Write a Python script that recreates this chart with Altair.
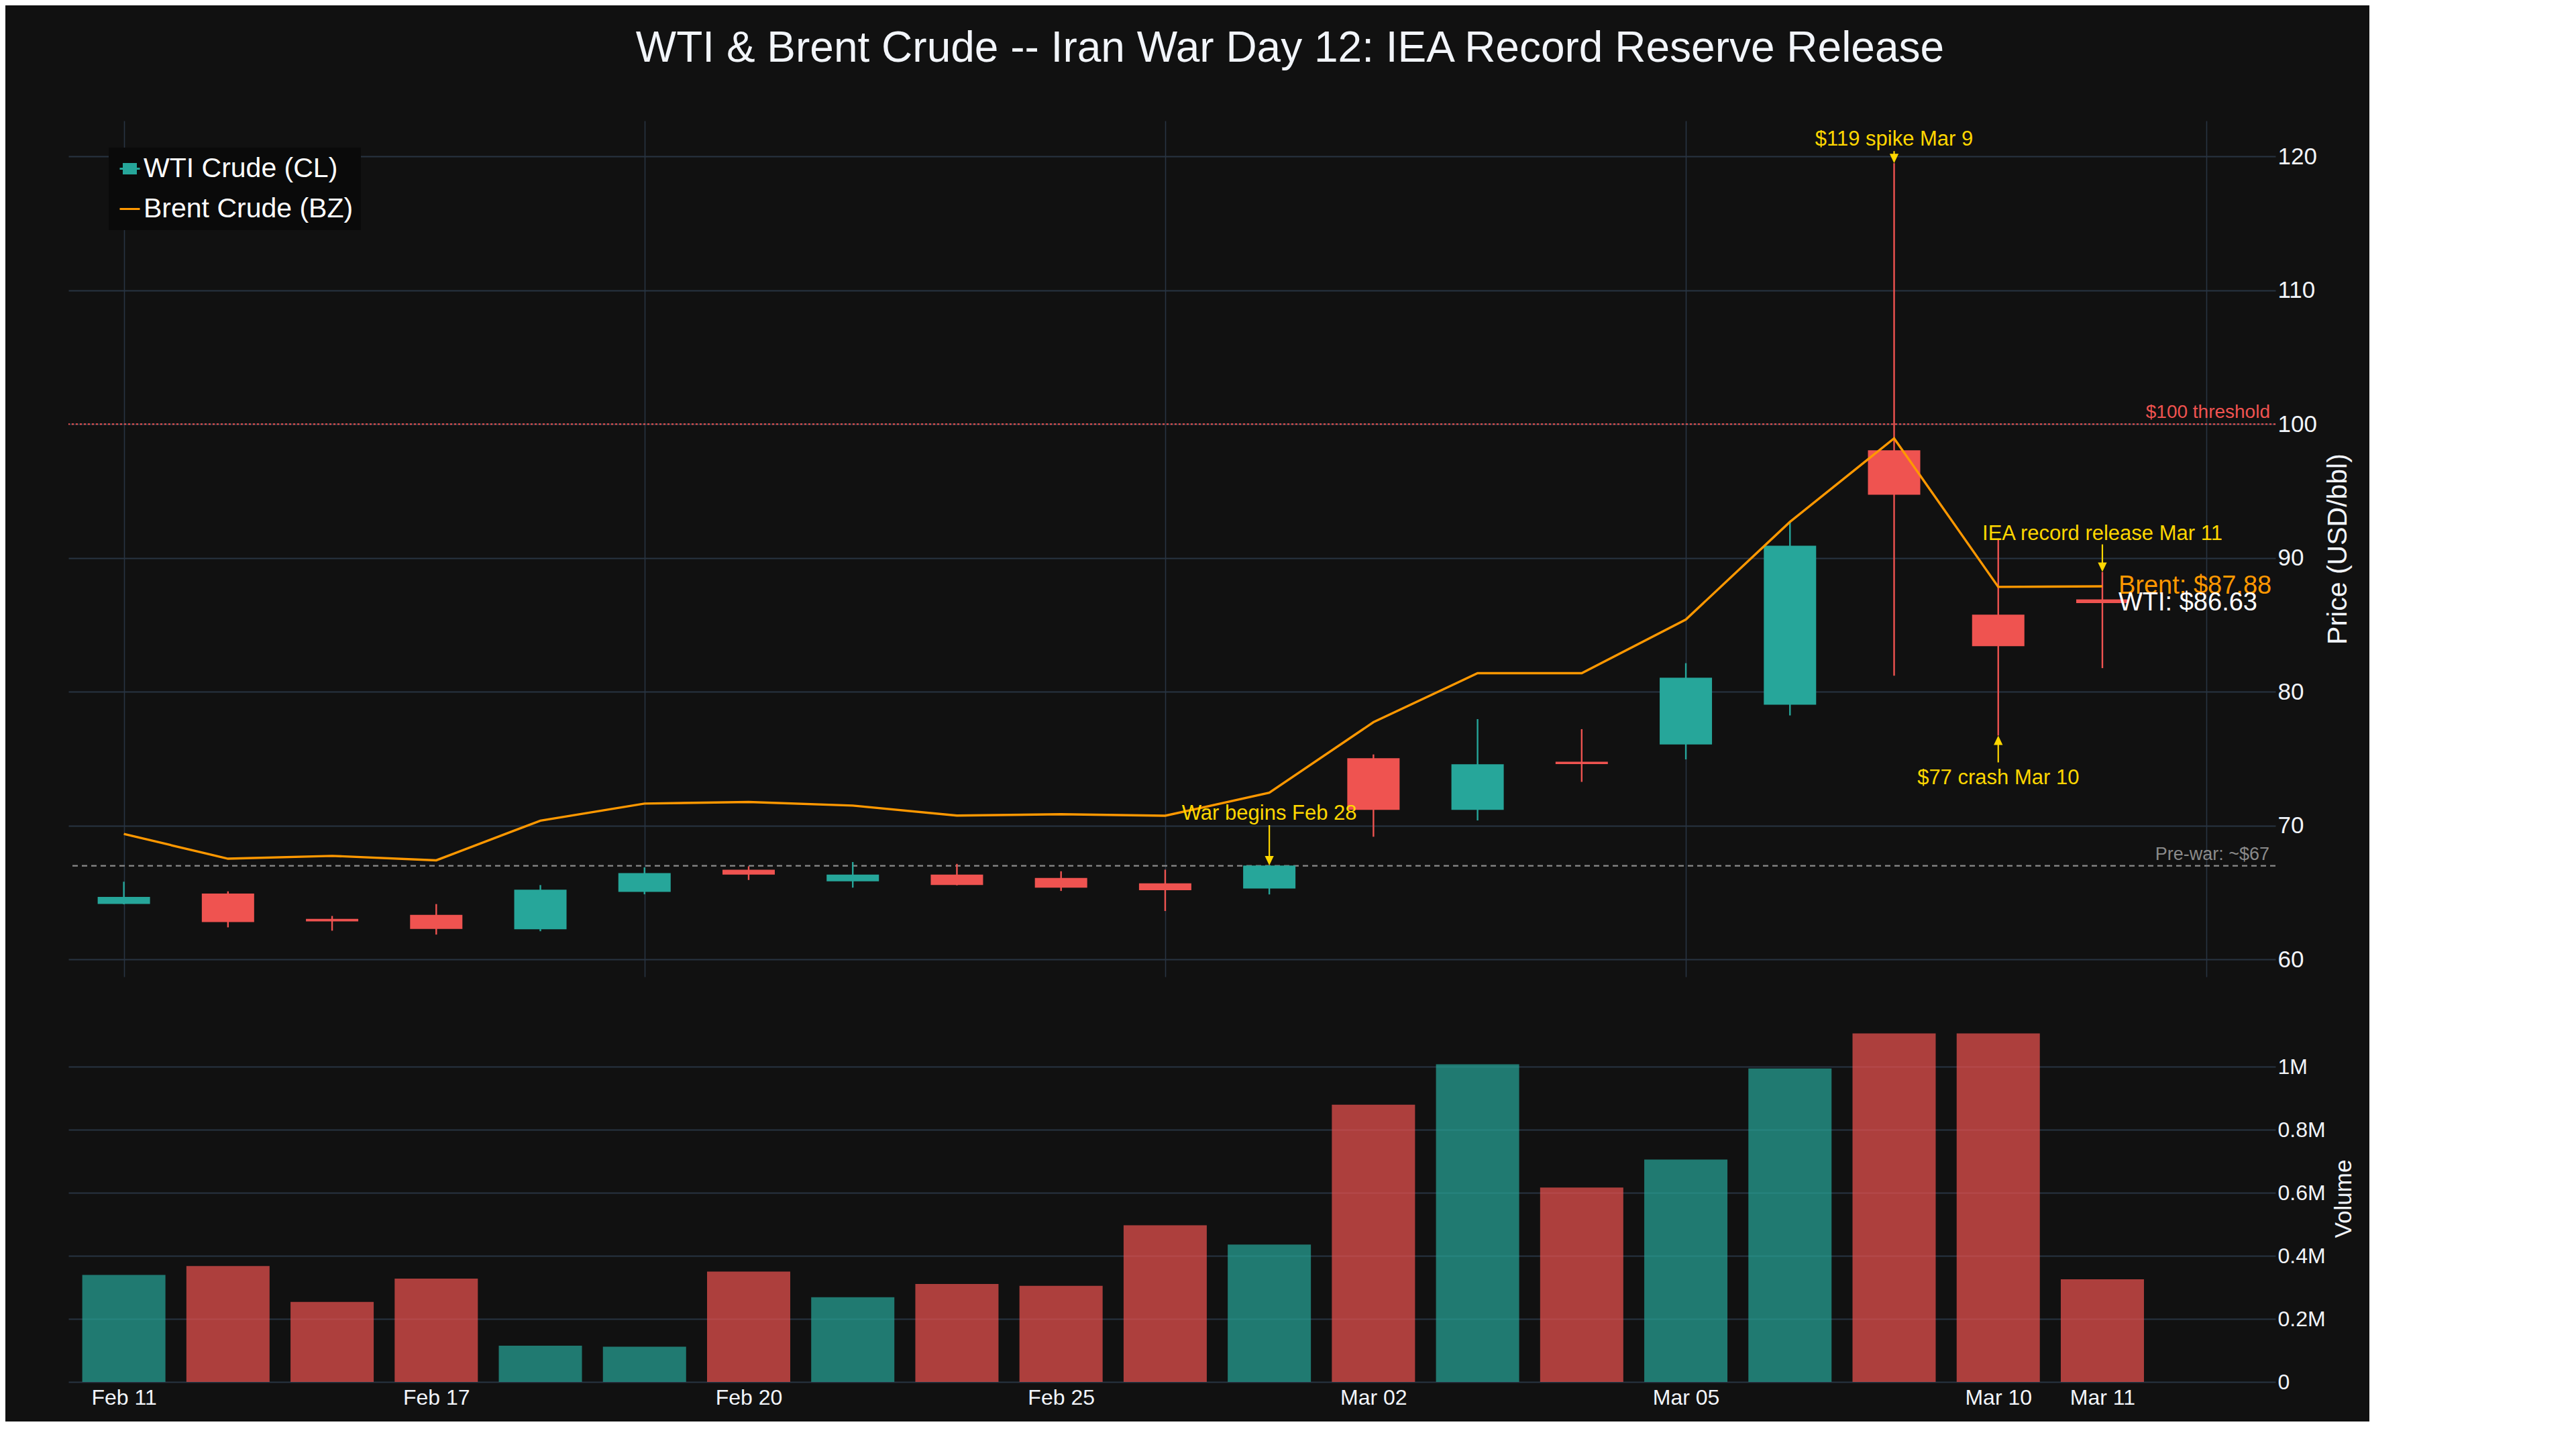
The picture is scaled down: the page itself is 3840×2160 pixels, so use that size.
import altair as alt
import pandas as pd

# ---------------- data ----------------
dates = ["Feb 11", "Feb 12", "Feb 13", "Feb 17", "Feb 18", "Feb 19", "Feb 20",
         "Feb 23", "Feb 24", "Feb 25", "Feb 26", "Feb 27", "Mar 02", "Mar 03",
         "Mar 04", "Mar 05", "Mar 06", "Mar 09", "Mar 10", "Mar 11"]
wti_open = [64.15, 64.92, 63.03, 63.33, 62.26, 65.05, 66.71, 65.84, 66.34, 66.09,
            65.69, 65.30, 75.04, 71.18, 74.77, 76.07, 79.04, 98.05, 85.77, 86.90]
wti_high = [65.81, 65.09, 63.25, 64.14, 65.56, 66.88, 66.96, 67.28, 67.14, 66.59,
            66.71, 67.03, 75.32, 77.96, 77.21, 82.14, 92.70, 119.50, 91.45, 88.96]
wti_low = [64.12, 62.40, 62.15, 61.86, 62.11, 64.87, 65.94, 65.37, 65.54, 65.12,
           63.62, 64.86, 69.17, 70.39, 73.27, 74.95, 78.23, 81.20, 76.73, 81.77]
wti_close = [64.67, 62.80, 62.85, 62.28, 65.22, 66.46, 66.34, 66.34, 65.57, 65.37,
             65.17, 67.02, 71.18, 74.59, 74.60, 81.05, 90.92, 94.73, 83.41, 86.63]
brent_close = [69.38, 67.53, 67.74, 67.41, 70.37, 71.65, 71.77, 71.50, 70.75, 70.85,
               70.74, 72.46, 77.73, 81.39, 81.39, 85.40, 92.70, 98.94, 87.84, 87.88]
volume = [339500, 368000, 254000, 328000, 115000, 112000, 350000, 269000, 311000, 305000,
          497000, 436000, 880000, 1008000, 617000, 706000, 995000, 1106000, 1106000, 326000]

series_names = ["WTI Crude (CL)", "Brent Crude (BZ)"]
ref_values = [100, 67]
ref_labels = ["$100 threshold", "Pre-war: ~$67"]

ann_texts = ["War begins Feb 28", "$119 spike Mar 9", "$77 crash Mar 10", "IEA record release Mar 11"]
ann_days = ["Feb 27", "Mar 09", "Mar 10", "Mar 11"]
ann_values = [67.03, 119.50, 76.73, 88.96]

price_ticks = [60, 70, 80, 90, 100, 110, 120]
volume_ticks = [0, 200000, 400000, 600000, 800000, 1000000]
x_grid_days = ["Feb 11", "Feb 19", "Feb 26", "Mar 05"]
x_label_days = ["Feb 11", "Feb 17", "Feb 20", "Feb 25", "Mar 02", "Mar 05", "Mar 10", "Mar 11"]

# ---------------- style ----------------
BG = "#111111"
TEAL = "#26a69a"
RED = "#ef5350"
ORANGE = "#ff9800"
GOLD = "#ffd700"
GRID = "#283442"
TXT = "#f2f5fa"
FONT = "Liberation Sans"

W = 3290
H_PRICE = 1276
H_VOL = 547
X_MIN, X_MAX = -0.5, 20.63

# per-annotation arrow style: (direction, arrow length px, text offset px)
ann_style = [("down", 60, 8), ("down", 18, 8), ("up", 40, 32), ("down", 41, 7)]

# ---------------- frames ----------------
idx = list(range(len(dates)))
df = pd.DataFrame({
    "idx": idx, "date": dates, "open": wti_open, "high": wti_high, "low": wti_low,
    "close": wti_close, "brent": brent_close, "volume": volume,
})
df["col"] = [TEAL if c >= o else RED for o, c in zip(wti_open, wti_close)]

day_index = {d: i for i, d in enumerate(dates)}

ref_df = pd.DataFrame({"y": ref_values, "label": ref_labels})
legend_df = pd.DataFrame({"series": series_names})
end_df = pd.DataFrame({
    "idx": [idx[-1], idx[-1]],
    "y": [brent_close[-1], wti_close[-1]],
    "label": [f"Brent: ${brent_close[-1]:.2f}", f"WTI: ${wti_close[-1]:.2f}"],
    "c": [ORANGE, "#ffffff"],
})

xs_price = alt.Scale(domain=[X_MIN, X_MAX], nice=False, zero=False)
ys_price = alt.Scale(domain=[58.71, 122.67], nice=False, zero=False)

x_price = alt.X("idx:Q", scale=xs_price,
                axis=alt.Axis(values=[day_index[d] for d in x_grid_days] + [20], labels=False,
                              ticks=False, domain=False, grid=True, gridColor=GRID,
                              gridWidth=1.6, title=None))

# reference lines
thr = alt.Chart(ref_df).transform_filter(alt.datum.y == ref_values[0]).mark_rule(
    color=RED, strokeWidth=2, strokeDash=[3, 3]).encode(y=alt.Y("y:Q", scale=ys_price))
pre = alt.Chart(ref_df).transform_filter(alt.datum.y == ref_values[1]).mark_rule(
    color="#8a8a8a", strokeWidth=2.4, strokeDash=[8, 6]).encode(y=alt.Y("y:Q", scale=ys_price))
thr_txt = alt.Chart(ref_df).transform_filter(alt.datum.y == ref_values[0]).mark_text(
    align="right", baseline="alphabetic", dx=-3, dy=-9, fontSize=28, color=RED, font=FONT
).encode(x=alt.X(datum=X_MAX, scale=xs_price), y=alt.Y("y:Q", scale=ys_price), text="label:N")
pre_txt = alt.Chart(ref_df).transform_filter(alt.datum.y == ref_values[1]).mark_text(
    align="right", baseline="alphabetic", dx=-4, dy=-9, fontSize=27, color="#8a8a8a", font=FONT
).encode(x=alt.X(datum=X_MAX, scale=xs_price), y=alt.Y("y:Q", scale=ys_price), text="label:N")

base = alt.Chart(df)
wicks = base.mark_rule(strokeWidth=2.4).encode(
    x=x_price, y=alt.Y("low:Q", scale=ys_price, title="Price (USD/bbl)",
                        axis=alt.Axis(orient="right", values=price_ticks, grid=True,
                                      gridColor=GRID, gridWidth=2, ticks=False, domain=False,
                                      labelFontSize=35, labelColor=TXT, labelPadding=3,
                                      labelFont=FONT, titleFont=FONT, titleFontSize=41,
                                      titleColor=TXT, titleFontWeight="normal",
                                      titleAngle=270, titleBaseline="top", titlePadding=12)),
    y2="high:Q", color=alt.Color("col:N", scale=None))
bodies = base.mark_bar(size=78).encode(
    x="idx:Q", y="open:Q", y2="close:Q", color=alt.Color("col:N", scale=None))
brent_line = base.mark_line(color=ORANGE, strokeWidth=3.4).encode(x="idx:Q", y="brent:Q")

# annotations with arrows
ann_layers = []
down_head = "M-0.95,-2L0.95,-2L0,0Z"
up_head = "M-0.95,2L0.95,2L0,0Z"
for text, day, val, (direction, alen, toff) in zip(ann_texts, ann_days, ann_values, ann_style):
    adf = pd.DataFrame({"idx": [day_index[day]], "y": [val], "t": [text]})
    sgn = -1 if direction == "down" else 1
    enc = dict(x=alt.X("idx:Q", scale=xs_price), y=alt.Y("y:Q", scale=ys_price))
    shaft = alt.Chart(adf).mark_rule(color=GOLD, strokeWidth=2.2, yOffset=sgn * 12,
                                     y2Offset=sgn * alen).encode(y2="y:Q", **enc)
    head = alt.Chart(adf).mark_point(shape=down_head if direction == "down" else up_head,
                                     filled=True, size=196, color=GOLD, opacity=1,
                                     strokeWidth=0).encode(**enc)
    label = alt.Chart(adf).mark_text(color=GOLD, fontSize=31, font=FONT, align="center",
                                     baseline="alphabetic",
                                     yOffset=sgn * (alen + toff)).encode(text="t:N", **enc)
    ann_layers += [shaft, head, label]

end_txt = alt.Chart(end_df).mark_text(align="left", baseline="middle", dx=24, fontSize=38,
                                      font=FONT).encode(
    x=alt.X("idx:Q", scale=xs_price), y=alt.Y("y:Q", scale=ys_price), text="label:N",
    color=alt.Color("c:N", scale=None))

wti_icon = "M-0.6,-0.47H0.6V0.47H-0.6Z M-1,0H-0.6 M0.6,0H1"
line_icon = "M-1,0H1"
leg = alt.Legend(title=None, orient="none", legendX=60, legendY=40, fillColor="#0a0a0a",
                 padding=11, labelFontSize=41, labelColor="#ffffff", labelFont=FONT,
                 labelLimit=0, symbolSize=900, rowPadding=18, labelOffset=0,
                 symbolOpacity=1, symbolStrokeWidth=3)
# invisible marks that only carry the legend (kept well inside the plot area)
legend_pts = alt.Chart(legend_df).mark_point(filled=True, opacity=0).encode(
    x=alt.value(W / 2), y=alt.value(H_PRICE / 2),
    fill=alt.Fill("series:N", scale=alt.Scale(domain=series_names, range=[TEAL, "transparent"]),
                  legend=leg),
    stroke=alt.Stroke("series:N", scale=alt.Scale(domain=series_names, range=[TEAL, ORANGE]),
                      legend=leg),
    shape=alt.Shape("series:N", scale=alt.Scale(domain=series_names, range=[wti_icon, line_icon]),
                    legend=leg),
)

price = alt.layer(thr, pre, thr_txt, pre_txt, wicks, bodies, brent_line, *ann_layers,
                  end_txt, legend_pts).properties(width=W, height=H_PRICE)

# ---------------- volume ----------------
label_expr = "[" + ",".join(f"'{d}'" for d in dates) + "][datum.value]"
vol = alt.Chart(df).mark_bar(size=124, opacity=0.7).encode(
    x=alt.X("idx:Q", scale=alt.Scale(domain=[X_MIN, X_MAX], nice=False, zero=False),
            axis=alt.Axis(values=[day_index[d] for d in x_label_days], labelExpr=label_expr,
                          grid=False, ticks=False, domain=False, labelFontSize=32,
                          labelColor=TXT, labelFont=FONT, labelPadding=8, title=None)),
    y=alt.Y("volume:Q", scale=alt.Scale(domain=[0, 1164700], nice=False), title="Volume",
            axis=alt.Axis(orient="right", values=volume_ticks,
                          labelExpr="datum.value == 0 ? '0' : format(datum.value / 1e6, '~g') + 'M'",
                          grid=True, gridColor=GRID, gridWidth=2, ticks=False, domain=False,
                          labelFontSize=32, labelColor=TXT, labelFont=FONT, labelPadding=3,
                          titleFont=FONT, titleFontSize=35, titleColor=TXT,
                          titleFontWeight="normal", titleAngle=270, titleBaseline="top",
                          titlePadding=10)),
    color=alt.Color("col:N", scale=None),
).properties(width=W, height=H_VOL)

chart = alt.vconcat(price, vol, spacing=57).properties(
    title=alt.TitleParams("WTI & Brent Crude -- Iran War Day 12: IEA Record Reserve Release",
                          fontSize=64, color=TXT, font=FONT, fontWeight="normal",
                          anchor="middle", baseline="alphabetic", offset=24, dx=117),
    padding={"left": 92, "top": 33, "right": 20, "bottom": 20},
    background=BG,
).configure_view(stroke=None)

chart.save("out.html", embed_options={"renderer": "svg", "actions": False})
